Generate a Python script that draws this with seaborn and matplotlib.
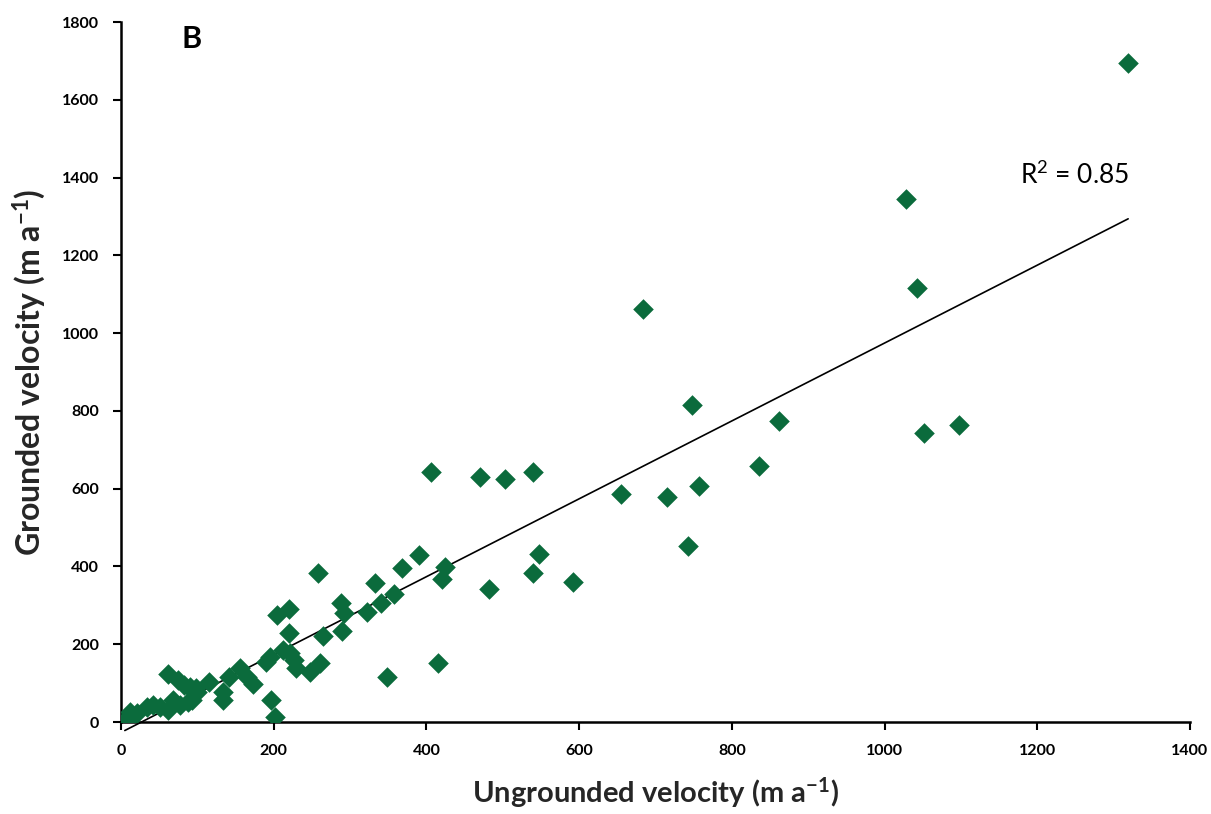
import numpy as np
import pandas as pd
import matplotlib
matplotlib.use("Agg")
import matplotlib.pyplot as plt
import seaborn as sns

# Data (m a^-1)
ungrounded = [1319, 1028, 1042, 683, 748, 862, 1052, 1098, 835, 655, 715, 757, 742, 592,
              540, 503, 470, 406, 548, 540, 482, 424, 420, 415, 348, 390, 368, 332, 341,
              357, 322, 288, 292, 290, 258, 265, 261, 248, 220, 204, 220, 226, 229, 212,
              221, 195, 190, 173, 165, 156, 141, 134, 134, 115, 98, 90, 82, 75, 61, 88,
              77, 68, 62, 51, 42, 34, 21, 12, 5, 15, 197, 202, 99, 93, 90]
grounded = [1694, 1345, 1116, 1062, 815, 773, 742, 764, 659, 587, 578, 607, 452, 360,
            642, 625, 630, 642, 433, 383, 342, 398, 368, 152, 117, 430, 397, 357, 307,
            330, 284, 305, 280, 234, 382, 221, 151, 129, 291, 275, 228, 160, 138, 185,
            177, 168, 155, 99, 117, 138, 117, 78, 57, 104, 87, 87, 95, 108, 123, 52,
            44, 57, 31, 39, 44, 39, 22, 26, 5, 15, 57, 14, 78, 57, 91]

x_ticks = [0, 200, 400, 600, 800, 1000, 1200, 1400]
y_ticks = [0, 200, 400, 600, 800, 1000, 1200, 1400, 1600, 1800]
r2_label = "R$^2$ = 0.85"
panel_label = "B"

df = pd.DataFrame({"ungrounded": ungrounded, "grounded": grounded})

sns.set_theme(style="ticks")
plt.rcParams['font.family'] = ['Lato', 'DejaVu Sans']
plt.rcParams['mathtext.fontset'] = 'custom'
plt.rcParams['mathtext.rm'] = 'Lato'
plt.rcParams['mathtext.bf'] = 'Lato:bold'
plt.rcParams['mathtext.default'] = 'regular'
plt.rcParams['text.color'] = 'black'

fig = plt.figure(figsize=(12.11, 8.14), dpi=100)
ax = fig.add_axes([121/1211, 92/814, (1190-121)/1211, (722-22)/814])

green = "#0B6B3C"
sns.scatterplot(data=df, x="ungrounded", y="grounded", marker="D", s=110,
                color=green, edgecolor=green, linewidth=0, ax=ax, zorder=3)
sns.regplot(data=df, x="ungrounded", y="grounded", scatter=False, ci=None,
            truncate=True, ax=ax,
            line_kws=dict(color="black", lw=1.2, clip_on=False, zorder=2))

ax.set_xlim(0, 1400)
ax.set_ylim(0, 1800)
ax.set_xticks(x_ticks)
ax.set_yticks(y_ticks)
ax.set_xticklabels([str(t) for t in x_ticks], fontweight="bold", fontsize=11.5)
ax.set_yticklabels([str(t) for t in y_ticks], fontweight="bold", fontsize=11.5)
ax.tick_params(direction="out", length=6, width=1.5, color="black", pad=10,
               labelcolor="black")
for s in ["left", "bottom"]:
    ax.spines[s].set_color("black")
    ax.spines[s].set_linewidth(1.8)
sns.despine(ax=ax)

ax.set_xlabel("Ungrounded velocity (m a$^{-1}$)", fontsize=21,
              fontweight="bold", labelpad=12)
ax.set_ylabel("Grounded velocity (m a$^{-1}$)", fontsize=23,
              fontweight="bold", labelpad=10)

ax.text(0.057, 0.975, panel_label, transform=ax.transAxes, fontsize=22,
        fontweight="bold", va="center", ha="left")
ax.text(1249, 1406, r2_label, fontsize=19, va="center", ha="center")

fig.savefig("out.png", dpi=100)
